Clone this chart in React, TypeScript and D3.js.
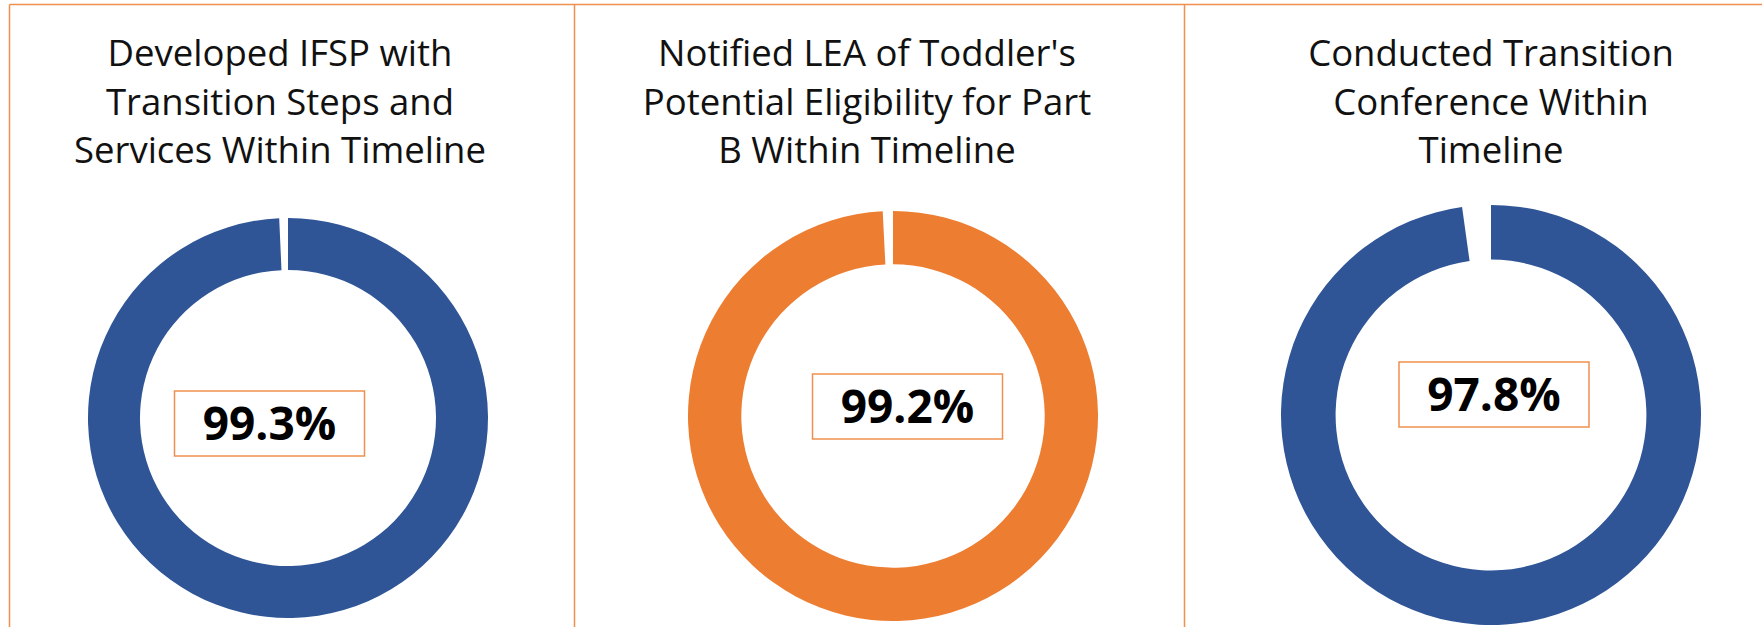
import * as d3 from "d3";
import { useEffect, useRef } from "react";

const WIDTH = 1762;
const HEIGHT = 627;

// data
const titles = [
  ["Developed IFSP with", "Transition Steps and", "Services Within Timeline"],
  ["Notified LEA of Toddler's", "Potential Eligibility for Part", "B Within Timeline"],
  ["Conducted Transition", "Conference Within", "Timeline"],
];
const percents = [99.3, 99.2, 97.8];
const ringColors = ["#2F5597", "#ED7D31", "#2F5597"];

// where each panel sits
const dividers = [9.5, 574.5, 1184.5];
const layout = [
  { cx: 288, cy: 418, r: 200, titleX: 280, labelX: 269.5, labelY: 423.5 },
  { cx: 893, cy: 416, r: 205, titleX: 867, labelX: 907.5, labelY: 406.5 },
  { cx: 1491, cy: 415, r: 210, titleX: 1491, labelX: 1494, labelY: 394.5 },
];

const borderColor = "#F0904F";

const App = () => {
  const svgRef = useRef<SVGSVGElement>(null);

  useEffect(() => {
    document.body.style.margin = "0";
    const svg = d3.select(svgRef.current);
    svg.selectAll("*").remove();

    // panel frame: top line plus vertical dividers
    svg.append("line")
      .attr("x1", dividers[0]).attr("x2", WIDTH)
      .attr("y1", 4.5).attr("y2", 4.5)
      .attr("stroke", borderColor).attr("stroke-width", 1.5);
    svg.selectAll(".divider")
      .data(dividers)
      .enter()
      .append("line")
      .attr("x1", d => d).attr("x2", d => d)
      .attr("y1", 4.5).attr("y2", HEIGHT)
      .attr("stroke", borderColor).attr("stroke-width", 1.5);

    const pie = d3.pie<number>().sort(null).startAngle(0).endAngle(2 * Math.PI);

    percents.forEach((value, i) => {
      const L = layout[i];

      // title, three lines
      svg.append("text")
        .attr("x", L.titleX)
        .attr("y", 66)
        .attr("text-anchor", "middle")
        .style("font-family", "'Open Sans', sans-serif")
        .style("font-size", "36.5px")
        .style("fill", "#111")
        .selectAll("tspan")
        .data(titles[i])
        .enter()
        .append("tspan")
        .attr("x", L.titleX)
        .attr("dy", (d, j) => (j === 0 ? 0 : 48.5))
        .text(d => d);

      // donut ring
      const arc = d3.arc<d3.PieArcDatum<number>>()
        .innerRadius(L.r * 0.74)
        .outerRadius(L.r);
      const g = svg.append("g").attr("transform", `translate(${L.cx}, ${L.cy})`);
      g.selectAll("path")
        .data(pie([value, 100 - value]))
        .enter()
        .append("path")
        .attr("d", arc)
        .style("fill", (d, j) => (j === 0 ? ringColors[i] : "none"));

      // boxed percent label
      const boxW = 190;
      const boxH = 65;
      svg.append("rect")
        .attr("x", L.labelX - boxW / 2)
        .attr("y", L.labelY - boxH / 2)
        .attr("width", boxW)
        .attr("height", boxH)
        .style("fill", "white")
        .style("stroke", borderColor)
        .style("stroke-width", 1.5);
      svg.append("text")
        .attr("x", L.labelX)
        .attr("y", L.labelY + 16.5)
        .attr("text-anchor", "middle")
        .style("font-family", "'Open Sans', sans-serif")
        .style("font-weight", "bold")
        .style("font-size", "46px")
        .style("fill", "#000")
        .text(`${value.toFixed(1)}%`);
    });
  }, []);

  return (
    <svg ref={svgRef} width={WIDTH} height={HEIGHT} style={{ display: "block", background: "white" }}></svg>
  );
};

export default App;
